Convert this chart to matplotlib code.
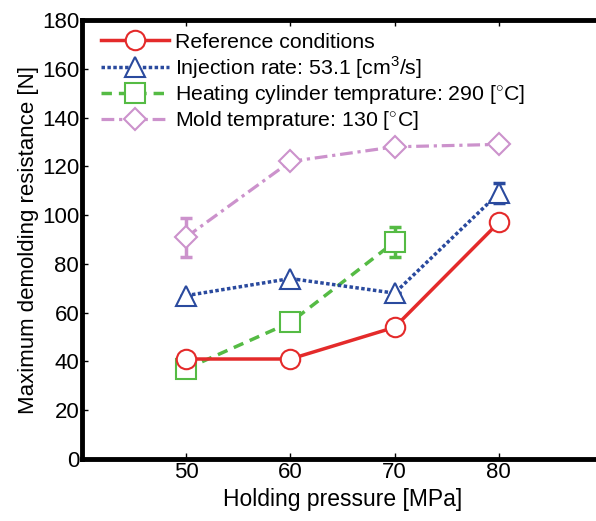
import matplotlib
matplotlib.use("Agg")
import matplotlib.pyplot as plt
import numpy as np

plt.rcParams['font.family'] = ['Liberation Sans', 'DejaVu Sans']
plt.rcParams['mathtext.fontset'] = 'custom'
plt.rcParams['mathtext.rm'] = 'Liberation Sans'

pressure = [50, 60, 70, 80]
ref_vals = [41, 41, 54, 97]
inj_vals = [67, 74, 68, 109]
inj_err = [0, 0, 0, 4]
heat_x = [50, 60, 70]
heat_vals = [37, 56, 89]
heat_err = [0, 0, 6]
mold_vals = [91, 122, 128, 129]
mold_err = [8, 0, 0, 0]

labels = ["Reference conditions",
          r"Injection rate: 53.1 [cm$^3$/s]",
          r"Heating cylinder temprature: 290 [$^{\circ}$C]",
          r"Mold temprature: 130 [$^{\circ}$C]"]

c_red = '#e42a2a'
c_blue = '#2a4a9e'
c_green = '#55bb44'
c_purple = '#cc92cc'

fig = plt.figure(figsize=(5.96, 5.21), dpi=100)
ax = fig.add_axes([82/596, 1-459/521, (603-82)/596, (459-20)/521])

ms = 14
series = [
    (pressure, ref_vals, None, c_red, '-', 'o', ms, 2.5, 5),
    (pressure, inj_vals, inj_err, c_blue, (0, (1.0, 0.7)), '^', ms, 2.5, 4),
    (heat_x, heat_vals, heat_err, c_green, (0, (3, 2)), 's', ms, 2.5, 3),
    (pressure, mold_vals, mold_err, c_purple, (0, (4, 1.5, 1, 1.5)), 'D', ms * 0.8, 2.3, 2),
]
for (x, y, err, c, ls, mk, msz, lw, z), lab in zip(series, labels):
    if err is not None:
        ax.errorbar(x, y, yerr=err, fmt='none', ecolor=c, capsize=4, capthick=2.5,
                    elinewidth=2.5, zorder=z - 0.5)
    ax.plot(x, y, color=c, ls=ls, lw=lw, marker=mk, ms=msz, mfc='white', mec=c,
            mew=1.5, label=lab, zorder=z)

ax.set_xlim(40, 90)
ax.set_ylim(0, 180)
ax.set_xticks([50, 60, 70, 80])
ax.set_yticks(np.arange(0, 181, 20))
ax.tick_params(direction='in', length=4, width=1, labelsize=16, top=True, right=True, pad=2)
for s in ax.spines.values():
    s.set_linewidth(3.5)

ax.set_xlabel("Holding pressure [MPa]", fontsize=16.5, labelpad=4)
ax.set_ylabel("Maximum demolding resistance [N]", fontsize=16, labelpad=2)

leg = ax.legend(loc='upper left', frameon=False, fontsize=15.3, handlelength=3.2,
                borderaxespad=0.2, labelspacing=0.12, handletextpad=0.3,
                bbox_to_anchor=(0.012, 1.0))

fig.savefig("out.png", dpi=100)
